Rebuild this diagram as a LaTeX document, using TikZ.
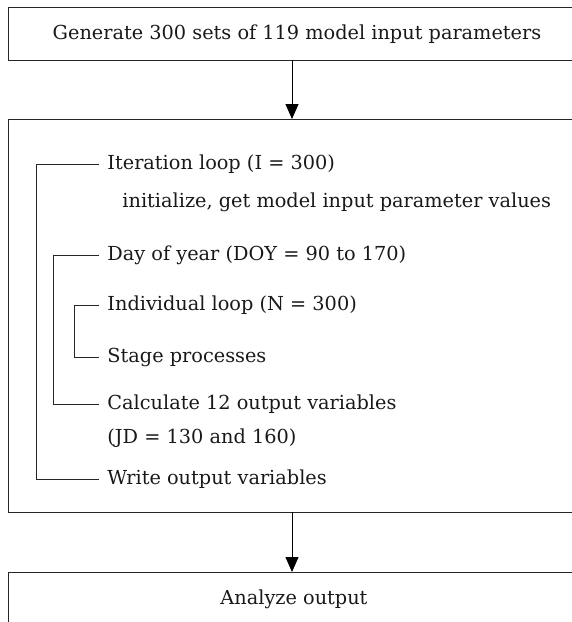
\documentclass[tikz,border=0pt]{standalone}
\usepackage{fontspec}
\setmainfont{DejaVu Serif}
\usetikzlibrary{arrows.meta}
\begin{document}
\begin{tikzpicture}[x=1pt,y=-1pt,
  line width=0.9pt,
  boxline/.style={draw=black!85,line width=1.1pt},
  txt/.style={inner sep=0pt,font=\fontsize{19.3}{23}\selectfont,text=black!90,text height=14pt,text depth=4pt},
  ltxt/.style={txt,anchor=west},
  flow/.style={-{Triangle[width=13pt,length=15pt]},line width=0.9pt},
  brk/.style={line width=0.8pt,draw=black!85}]
\useasboundingbox (0,0) rectangle (572,622);
\clip (0,0) rectangle (572,622);
% boxes
\node[boxline,minimum width=568pt,minimum height=53pt,anchor=north west,inner sep=0pt] (top) at (8,7) {};
\node[txt] (toptxt) at (297,34) {Generate 300 sets of 119 model input parameters};
\node[boxline,minimum width=568pt,minimum height=393pt,anchor=north west,inner sep=0pt] (mid) at (8,119) {};
\node[boxline,minimum width=568pt,minimum height=80pt,anchor=north west,inner sep=0pt] (bot) at (8,572) {};
\node[txt] (bottxt) at (294,599) {Analyze output};
% arrows
\coordinate (a1) at (292,60);
\coordinate (a2) at (292,119);
\coordinate (a3) at (292,512);
\coordinate (a4) at (292,572);
\draw[flow] (a1) -- (a2);
\draw[flow] (a3) -- (a4);
% texts
\node[ltxt] (iter) at (107,164) {Iteration loop (I = 300)};
\node[ltxt] (init) at (122,202) {initialize, get model input parameter values};
\node[ltxt] (doy) at (107,255) {Day of year (DOY = 90 to 170)};
\node[ltxt] (ind) at (107,305) {Individual loop (N = 300)};
\node[ltxt] (stage) at (107,357) {Stage processes};
\node[ltxt] (calc) at (107,404) {Calculate 12 output variables};
\node[ltxt] (jd) at (107,438) {(JD = 130 and 160)};
\node[ltxt] (write) at (107,479) {Write output variables};
% brackets
\draw[brk] ([xshift=-8pt]iter.west) -- (36,164) |- ([xshift=-8pt]write.west);
\draw[brk] ([xshift=-8pt]doy.west) -- (53,255) |- ([xshift=-8pt]calc.west);
\draw[brk] ([xshift=-8pt]ind.west) -- (74,305) |- ([xshift=-8pt]stage.west);
\end{tikzpicture}
\end{document}
